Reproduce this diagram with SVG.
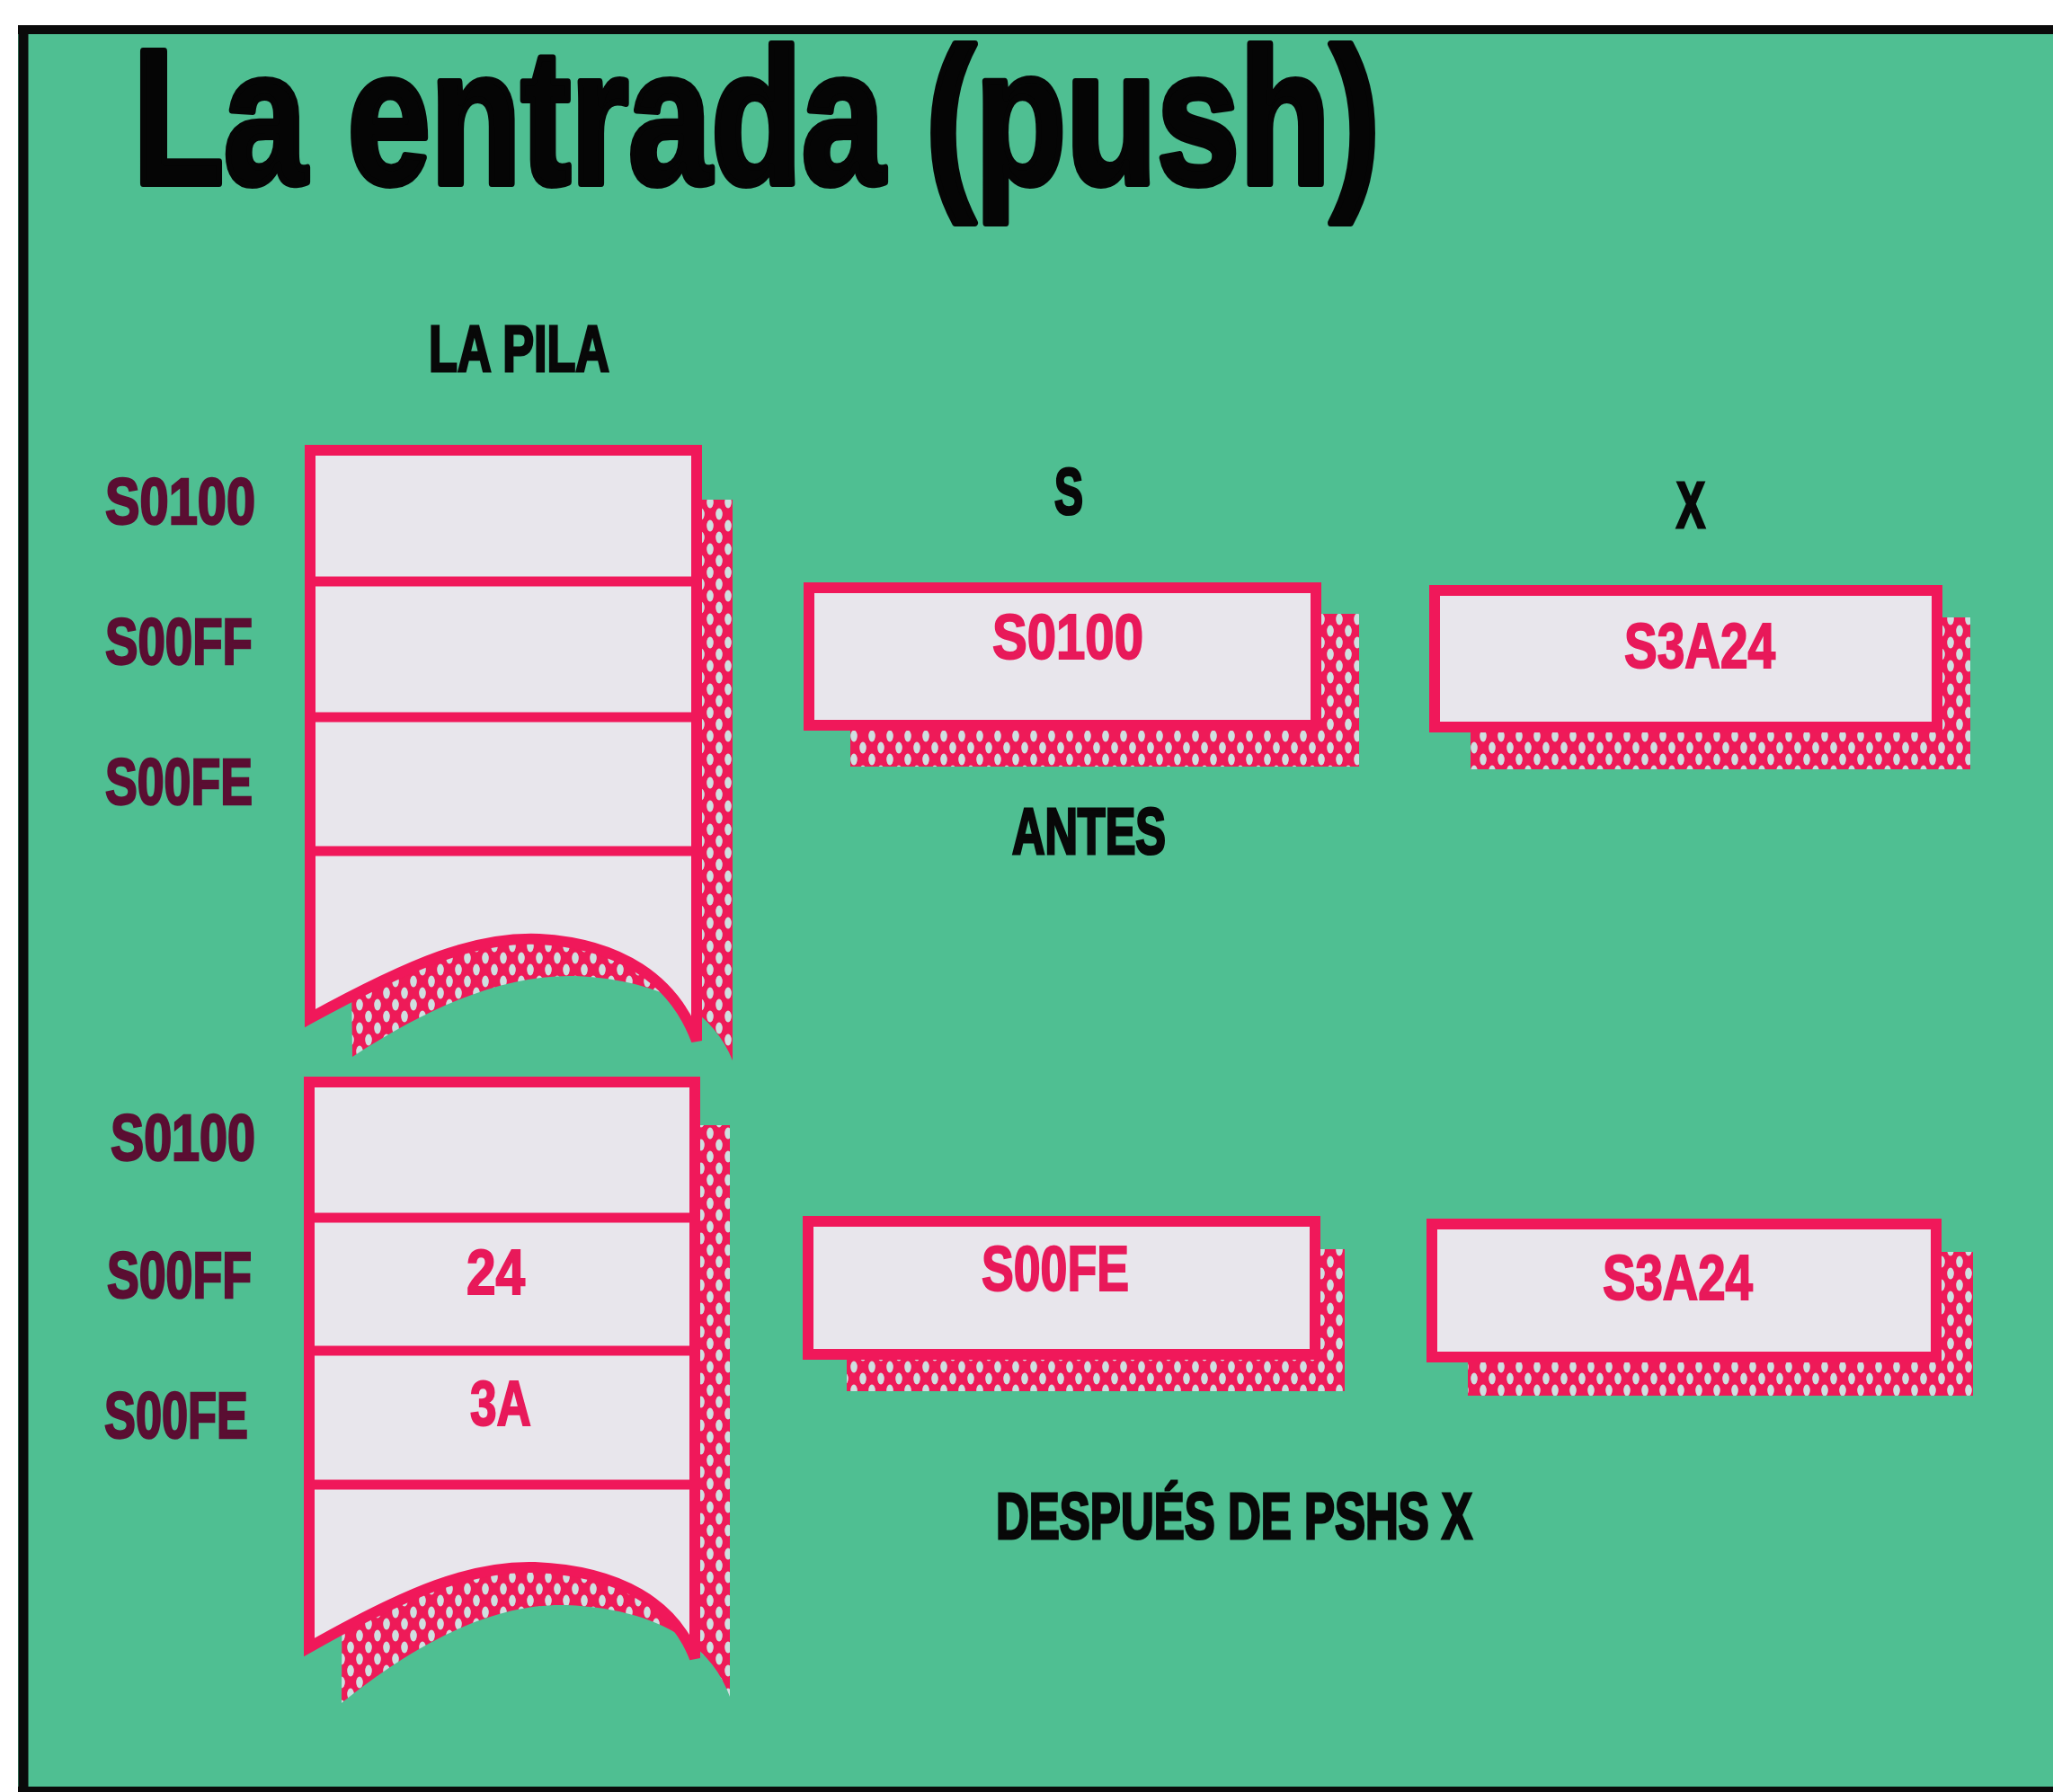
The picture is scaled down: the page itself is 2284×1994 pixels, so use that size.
<svg xmlns="http://www.w3.org/2000/svg" width="2284" height="1994" viewBox="0 0 2284 1994">
<defs>
<pattern id="hatch" width="20" height="26" patternUnits="userSpaceOnUse">
<rect width="20" height="26" fill="#ee1a58"/>
<ellipse cx="10" cy="13" rx="3.8" ry="6.5" fill="#cfdfe0"/>
<ellipse cx="0" cy="0" rx="3.8" ry="6.5" fill="#cfdfe0"/>
<ellipse cx="20" cy="0" rx="3.8" ry="6.5" fill="#cfdfe0"/>
<ellipse cx="0" cy="26" rx="3.8" ry="6.5" fill="#cfdfe0"/>
<ellipse cx="20" cy="26" rx="3.8" ry="6.5" fill="#cfdfe0"/>
</pattern>
<style>
.box{fill:#e8e6ec;stroke:#f0185a;stroke-width:12;stroke-linejoin:miter}
.div{stroke:#f0185a;stroke-width:11}
.sh{fill:url(#hatch)}
.t{font-family:"Liberation Sans",Arial,sans-serif;font-weight:bold}
.lbl{fill:#5a0e32;font-size:72px;stroke:#5a0e32;stroke-width:2.5}
.val{fill:#e8195a;font-size:70px;stroke:#e8195a;stroke-width:2}
.blk{fill:#080808;font-size:72px;stroke:#080808;stroke-width:3}
</style>
</defs>
<rect x="0" y="0" width="2284" height="1994" fill="#ffffff"/>
<rect x="20" y="28" width="2264" height="1966" fill="#4fbf92"/>
<line x1="20" y1="33" x2="2284" y2="33" stroke="#0a0a0a" stroke-width="10"/>
<line x1="26" y1="28" x2="26" y2="1994" stroke="#0a0a0a" stroke-width="11"/>
<line x1="20" y1="1991" x2="2284" y2="1991" stroke="#0a0a0a" stroke-width="6"/>

<g id="title">
<text class="t" x="148" y="204" font-size="213" textLength="1387" lengthAdjust="spacingAndGlyphs" fill="#050505" stroke="#050505" stroke-width="8" stroke-linejoin="round">La entrada (push)</text>
</g>

<g id="label-la-pila">
<text class="t blk" x="477" y="413" textLength="201" lengthAdjust="spacingAndGlyphs">LA PILA</text>
</g>
<g id="label-s">
<text class="t blk" x="1173" y="572" textLength="32" lengthAdjust="spacingAndGlyphs">S</text>
</g>
<g id="label-x">
<text class="t blk" x="1865" y="587" textLength="32" lengthAdjust="spacingAndGlyphs">X</text>
</g>
<g id="label-antes">
<text class="t blk" x="1126" y="950" textLength="171" lengthAdjust="spacingAndGlyphs">ANTES</text>
</g>
<g id="label-despues">
<text class="t blk" x="1108" y="1712" textLength="530" lengthAdjust="spacingAndGlyphs">DESPUÉS DE PSHS X</text>
</g>

<g id="stack-antes">
<path class="sh" d="M385,556 H815 V1180 C792,1122 732,1090 640,1086 C570,1084 490,1112 392,1176 Z"/>
<path class="box" d="M345,501 H775 V1158 C750,1090 690,1050 600,1045 C530,1042 460,1070 345,1133 Z"/>
<line class="div" x1="345" y1="647" x2="775" y2="647"/>
<line class="div" x1="345" y1="798" x2="775" y2="798"/>
<line class="div" x1="345" y1="947" x2="775" y2="947"/>
<text class="t lbl" x="117" y="583" textLength="167" lengthAdjust="spacingAndGlyphs">S0100</text>
<text class="t lbl" x="117" y="739" textLength="164" lengthAdjust="spacingAndGlyphs">S00FF</text>
<text class="t lbl" x="117" y="895" textLength="164" lengthAdjust="spacingAndGlyphs">S00FE</text>
</g>

<g id="stack-despues">
<path class="sh" d="M383,1252 H812 V1888 C790,1828 730,1790 630,1786 C560,1784 480,1815 380,1895 Z"/>
<path class="box" d="M344,1204 H773 V1845 C750,1785 690,1748 595,1744 C525,1742 455,1770 344,1833 Z"/>
<line class="div" x1="344" y1="1355" x2="773" y2="1355"/>
<line class="div" x1="344" y1="1503" x2="773" y2="1503"/>
<line class="div" x1="344" y1="1652" x2="773" y2="1652"/>
<text class="t lbl" x="123" y="1291" textLength="161" lengthAdjust="spacingAndGlyphs">S0100</text>
<text class="t lbl" x="119" y="1444" textLength="161" lengthAdjust="spacingAndGlyphs">S00FF</text>
<text class="t lbl" x="116" y="1600" textLength="160" lengthAdjust="spacingAndGlyphs">S00FE</text>
<text class="t val" x="519" y="1440" textLength="65" lengthAdjust="spacingAndGlyphs">24</text>
<text class="t val" x="523" y="1586" textLength="68" lengthAdjust="spacingAndGlyphs">3A</text>
</g>

<g id="reg-s-antes">
<rect class="sh" x="946" y="683" width="566" height="170"/>
<rect class="box" x="900" y="654" width="564" height="153"/>
<text class="t val" x="1104" y="733" textLength="168" lengthAdjust="spacingAndGlyphs">S0100</text>
</g>
<g id="reg-x-antes">
<rect class="sh" x="1636" y="687" width="556" height="169"/>
<rect class="box" x="1596" y="657" width="559" height="152"/>
<text class="t val" x="1807" y="743" textLength="168" lengthAdjust="spacingAndGlyphs">S3A24</text>
</g>
<g id="reg-s-despues">
<rect class="sh" x="942" y="1390" width="554" height="158"/>
<rect class="box" x="899" y="1359" width="564" height="148"/>
<text class="t val" x="1092" y="1436" textLength="164" lengthAdjust="spacingAndGlyphs">S00FE</text>
</g>
<g id="reg-x-despues">
<rect class="sh" x="1633" y="1393" width="562" height="160"/>
<rect class="box" x="1593" y="1362" width="561" height="148"/>
<text class="t val" x="1783" y="1446" textLength="167" lengthAdjust="spacingAndGlyphs">S3A24</text>
</g>

<g id="connectors"/>
</svg>
